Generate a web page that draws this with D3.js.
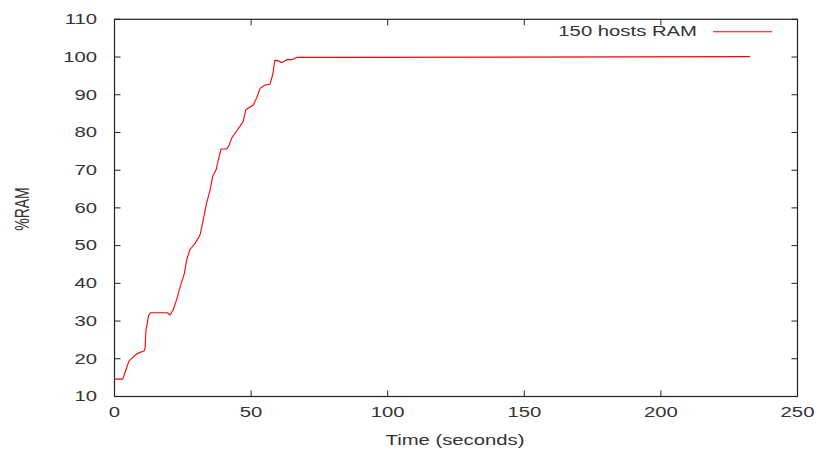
<!DOCTYPE html>
<html><head><meta charset="utf-8">
<script src="https://cdn.jsdelivr.net/npm/d3@7"></script>
<style>body{margin:0;background:#fff}svg{display:block}text{font-family:"Liberation Sans",Arial,sans-serif;fill:#333}</style>
</head><body>
<script>
const seriesName = "150 hosts RAM";
const timeSec = [0,3,5.3,8.1,10.9,11.2,11.5,12.5,13.2,19.3,20.3,21.5,22.8,23.7,24.6,25.6,26.4,27.6,29.5,31.3,32.5,33.7,35,35.9,37.2,38,39,41.1,42,42.9,44.1,45.9,47.1,47.8,48.1,50.8,52,53.3,55.1,56.9,57.9,58.7,60,61.2,63,64.9,66.7,81.9,232.6];
const ramPct  = [14.6,14.6,19.4,21.3,22.1,23,27.5,31.5,32.2,32.2,31.6,33,35.8,38.2,40.4,42.7,46.2,48.9,50.6,52.8,56.9,61.2,64.8,68.3,70.1,72.7,75.6,75.6,76.7,78.5,79.8,81.6,82.9,85.1,86,87.3,89.1,91.7,92.6,92.8,95.3,99.1,99,98.5,99.3,99.3,99.9,99.9,100.1];
const xTicks = [0,50,100,150,200,250];
const yTicks = [10,20,30,40,50,60,70,80,90,100,110];

const W = 818, H = 454;
const L = 114.5, R = 797.5, T = 19.3, B = 396.5;
const sx = 1.45; // horizontal text stretch of the original picture
const svg = d3.select("body").append("svg").attr("width", W).attr("height", H);
const x = d3.scaleLinear().domain([0,250]).range([L,R]);
const y = d3.scaleLinear().domain([10,110]).range([B,T]);

function txt(g, s, px, py, anchor, rot) {
  const t = g.append("text").text(s).attr("font-size", 14)
    .attr("text-anchor", anchor).attr("dominant-baseline", "central");
  t.attr("transform", `translate(${px},${py}) scale(${sx},1)` + (rot ? ` rotate(${rot})` : ""));
  return t;
}

const axisColor = "#222";
const tk = svg.append("g").attr("stroke", axisColor).attr("stroke-width", 1);
xTicks.forEach(v => {
  tk.append("line").attr("x1", x(v)).attr("x2", x(v)).attr("y1", B).attr("y2", B-6);
  tk.append("line").attr("x1", x(v)).attr("x2", x(v)).attr("y1", T).attr("y2", T+6);
});
yTicks.forEach(v => {
  tk.append("line").attr("x1", L).attr("x2", L+6).attr("y1", y(v)).attr("y2", y(v));
  tk.append("line").attr("x1", R).attr("x2", R-6).attr("y1", y(v)).attr("y2", y(v));
});
svg.append("rect").attr("x", L).attr("y", T).attr("width", R-L).attr("height", B-T)
  .attr("fill", "none").attr("stroke", axisColor).attr("stroke-width", 1.2);

const lab = svg.append("g");
xTicks.forEach(v => txt(lab, String(v), x(v), 412, "middle"));
yTicks.forEach(v => txt(lab, String(v), 97, y(v), "end"));
txt(lab, "Time (seconds)", (L+R)/2 - 1, 440, "middle");
txt(lab, "%RAM", 22, 209, "middle", -90);

const line = d3.line().x((d,i) => x(timeSec[i])).y(d => y(d));
svg.append("path").datum(ramPct).attr("d", line).attr("fill", "none")
  .attr("stroke", "#ff0000").attr("stroke-width", 1.1).attr("stroke-linejoin", "round");

txt(lab, seriesName, 697, 31, "end");
svg.append("line").attr("x1", 713).attr("x2", 772).attr("y1", 31.7).attr("y2", 31.7)
  .attr("stroke", "#ff0000").attr("stroke-width", 1.1);
</script>
</body></html>
